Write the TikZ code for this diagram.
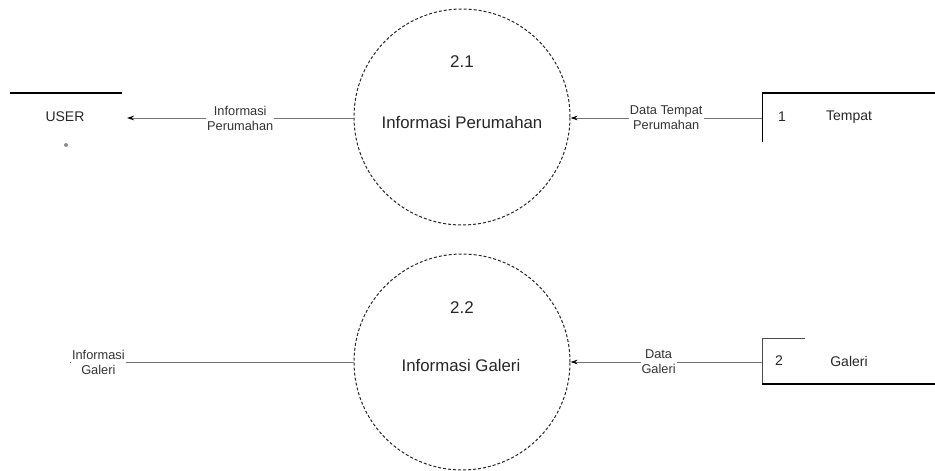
\documentclass[tikz,border=0pt]{standalone}
\usepackage{fontspec}
\setmainfont{Liberation Sans}
\usetikzlibrary{arrows.meta}
\begin{document}
\begin{tikzpicture}[x=1pt,y=-1pt,
  process/.style={circle,draw=black!85,line width=1pt,dash pattern=on 3pt off 2pt,minimum size=216pt,inner sep=0pt},
  pnum/.style={font=\fontsize{17}{20}\selectfont,text=black!85},
  pname/.style={font=\fontsize{16.8}{20}\selectfont,text=black!85},
  flowlabel/.style={font=\fontsize{12.8}{15}\selectfont,align=center,fill=white,inner sep=1pt,text=black!80},
  storetext/.style={font=\fontsize{14}{16}\selectfont,text=black!85},
  storeline/.style={line width=1.8pt,black},
  flow/.style={draw=black!55,line width=0.8pt},
  flowarrow/.style={flow,-{Stealth[length=7pt,width=4.5pt,black]}}]
  \useasboundingbox (0,0) rectangle (935,471);

  % processes
  \node[process] (p21) at (462,117) {};
  \node[pnum] (n21) at (462,62) {2.1};
  \node[pname] (t21) at (462,122) {Informasi Perumahan};
  \node[process] (p22) at (462,362) {};
  \node[pnum] (n22) at (462,308) {2.2};
  \node[pname] (t22) at (461,365) {Informasi Galeri};

  % external entity USER
  \draw[storeline] (10,93) -- (122,93);
  \node[storetext] (user) at (65,117) {USER};
  \fill[black!45] (66,145) circle (2pt);
  \coordinate (userin) at (127,118);

  % data store 1
  \draw[storeline] (935,93) -- (762,93);
  \draw[black,line width=1pt] (762,93) -- (762,142);
  \node[storetext] (s1num) at (782,117) {1};
  \node[storetext] (s1name) at (849,117) {Tempat};
  \coordinate (s1) at (762,118);

  % data store 2
  \draw[black!70,line width=1pt] (805,338) -- (762,338) -- (762,384);
  \draw[storeline] (762,384) -- (935,384);
  \node[storetext] (s2num) at (779,361) {2};
  \node[storetext] (s2name) at (849,361) {Galeri};
  \coordinate (s2) at (762,362);

  % loose end of the lower output flow
  \coordinate (out22) at (70,362);

  % data flows
  \draw[flowarrow] (p21.west |- userin) -- (userin)
    node[flowlabel,pos=0.5] {Informasi\\Perumahan};
  \draw[flowarrow] (s1) -- (p21.east |- s1)
    node[flowlabel,pos=0.5] {Data Tempat\\Perumahan};
  \draw[flow] (p22.west) -- (out22)
    node[flowlabel,pos=0.9] {Informasi\\Galeri};
  \draw[flowarrow] (s2) -- (p22.east)
    node[flowlabel,pos=0.54] {Data\\Galeri};
\end{tikzpicture}
\end{document}
